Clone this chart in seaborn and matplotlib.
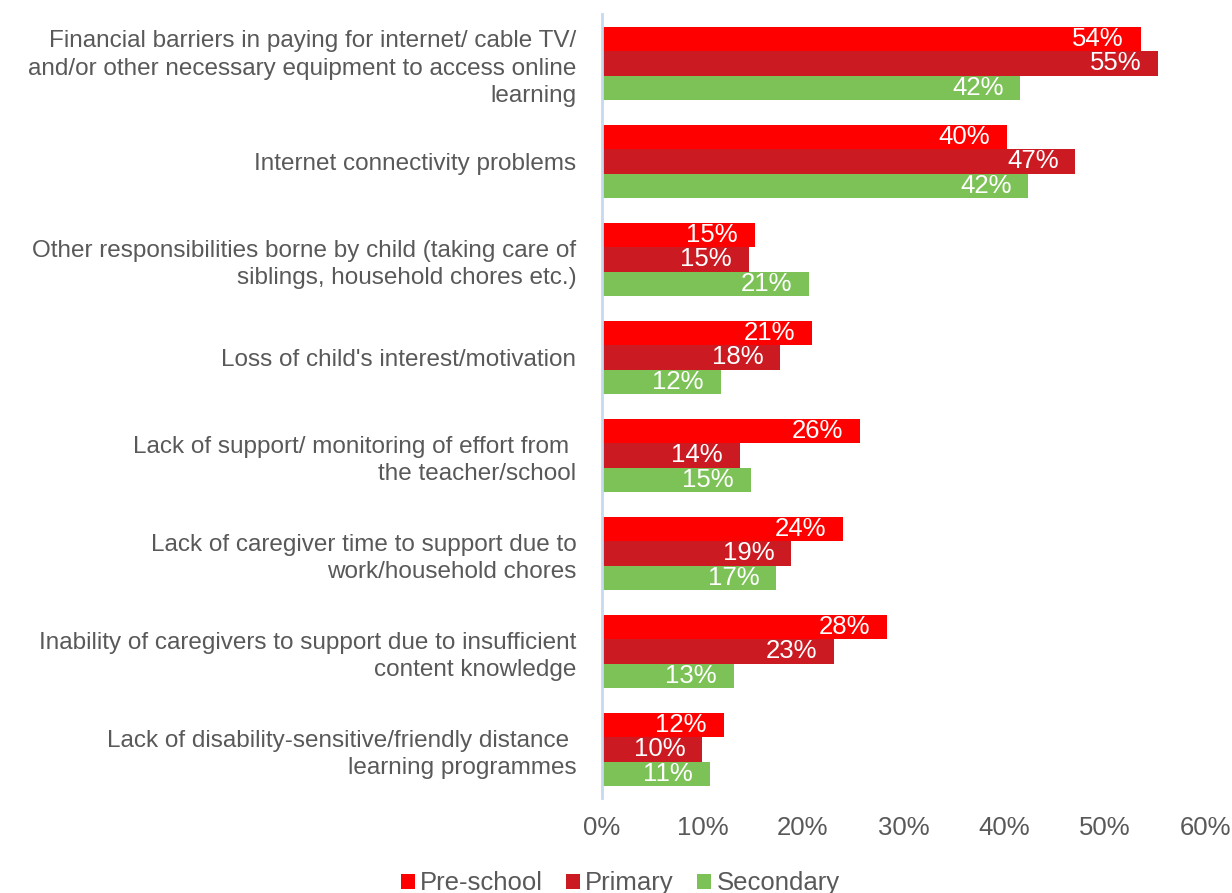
import pandas as pd
import matplotlib
matplotlib.use('Agg')
import matplotlib.pyplot as plt
import seaborn as sns
from matplotlib import font_manager

# Chart data (share of respondents, %)
categories = [
    'Financial barriers in paying for internet/ cable TV/\nand/or other necessary equipment to access online\nlearning',
    'Internet connectivity problems',
    'Other responsibilities borne by child (taking care of\nsiblings, household chores etc.)',
    "Loss of child's interest/motivation",
    'Lack of support/ monitoring of effort from \nthe teacher/school',
    'Lack of caregiver time to support due to\nwork/household chores',
    'Inability of caregivers to support due to insufficient\ncontent knowledge',
    'Lack of disability-sensitive/friendly distance \nlearning programmes',
]
groups = ['Pre-school', 'Primary', 'Secondary']
pre_school = [53.6, 40.3, 15.2, 20.9, 25.7, 24.0, 28.4, 12.1]
primary = [55.3, 47.1, 14.6, 17.7, 13.7, 18.8, 23.1, 10.0]
secondary = [41.6, 42.4, 20.6, 11.8, 14.8, 17.3, 13.1, 10.7]
x_ticks = [0, 10, 20, 30, 40, 50, 60]

colors = ['#FF0000', '#CB1A21', '#7CC257']
text_color = '#595959'

# long format for seaborn
df = pd.DataFrame({
    'Barrier': categories * 3,
    'Level': [g for g in groups for _ in categories],
    'Value': pre_school + primary + secondary,
})

sns.set_style('white')
installed = {f.name for f in font_manager.fontManager.ttflist}
if 'Liberation Sans Narrow' in installed:
    narrow = ['Liberation Sans Narrow', 'DejaVu Sans']
else:
    narrow = ['Liberation Sans', 'DejaVu Sans']
plt.rcParams['font.family'] = ['Liberation Sans', 'DejaVu Sans']

fig = plt.figure(figsize=(12.32, 8.93), dpi=100)
ax = fig.add_axes([0.4886, 0.106, 0.4895, 0.878])

sns.barplot(data=df, y='Barrier', x='Value', hue='Level', order=categories,
            hue_order=groups, palette=colors, orient='h', width=0.75,
            saturation=1, linewidth=0, ax=ax, legend=True)

# value labels inside the bar ends
for cont in ax.containers:
    for bar in cont:
        w = bar.get_width()
        ax.annotate(f'{round(w):.0f}%', xy=(w, bar.get_y() + bar.get_height() / 2),
                    xytext=(-12, 0), textcoords='offset points', ha='right',
                    va='center', color='white', fontsize=18.5, family=narrow)

ax.set_xlim(0, 60)
ax.set_ylim(len(categories) - 0.5, -0.5)
ax.set_xticks(x_ticks)
ax.set_xticklabels([f'{t}%' for t in x_ticks], family=narrow)
ax.set_yticks(range(len(categories)))
ax.set_yticklabels(categories, linespacing=1.33, ha='right')
ax.set_xlabel('')
ax.set_ylabel('')
ax.tick_params(axis='x', length=0, pad=13, labelsize=18.5, labelcolor=text_color)
ax.tick_params(axis='y', length=0, pad=18.5, labelsize=17.5, labelcolor=text_color)

for s in ['top', 'right', 'bottom']:
    ax.spines[s].set_visible(False)
ax.spines['left'].set_color('#C5D9EF')
ax.spines['left'].set_linewidth(2)

ax.legend(loc='upper center', bbox_to_anchor=(0.03, -0.08), ncol=3, frameon=False,
          prop={'family': narrow, 'size': 18.5}, labelcolor=text_color,
          handlelength=0.55, handleheight=0.55,
          handletextpad=0.2, columnspacing=0.9, borderaxespad=0)

fig.savefig('out.png', dpi=100)
